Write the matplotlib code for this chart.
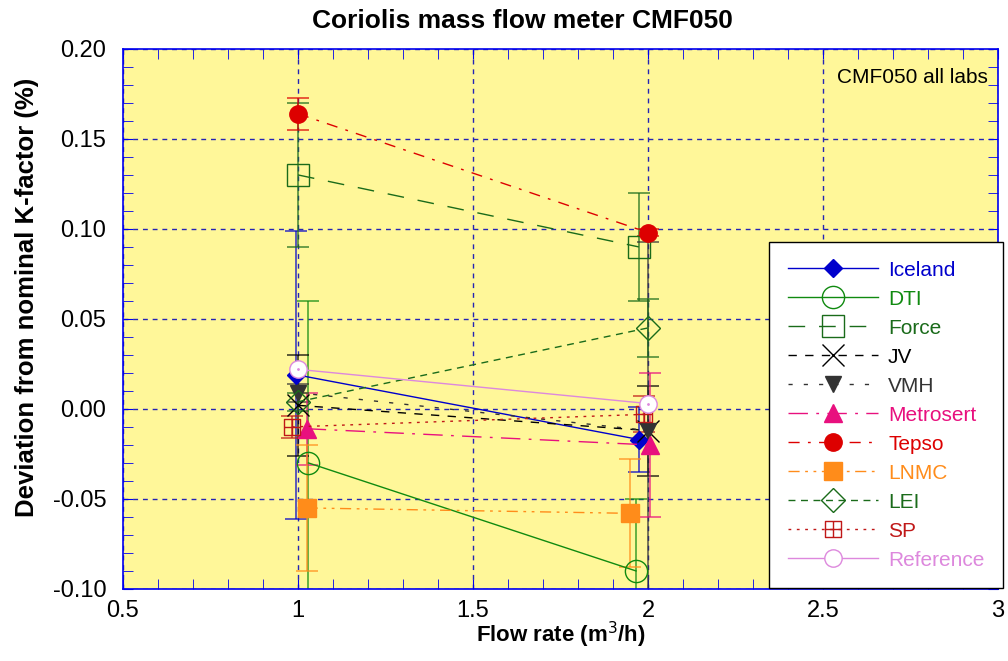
import numpy as np
import matplotlib
matplotlib.use("Agg")
import matplotlib.pyplot as plt
from matplotlib.path import Path
from matplotlib.ticker import MultipleLocator, FormatStrFormatter

plt.rcParams["font.family"] = ["Liberation Sans", "DejaVu Sans"]

labs = ["Iceland", "DTI", "Force", "JV", "VMH", "Metrosert", "Tepso", "LNMC", "LEI", "SP", "Reference"]

# flow rate (m3/h), deviation (%), uncertainty (%)
x_iceland = [0.995, 1.975]
y_iceland = [0.019, -0.017]
e_iceland = [0.08, 0.018]

x_dti = [1.03, 1.966]
y_dti = [-0.03, -0.09]
e_dti = [0.09, 0.04]

x_force = [1.0, 1.974]
y_force = [0.13, 0.09]
e_force = [0.04, 0.03]

x_jv = [1.0, 2.0]
y_jv = [0.002, -0.012]
e_jv = [0.028, 0.025]

x_vmh = [1.0, 2.0]
y_vmh = [0.009, -0.012]
e_vmh = [0.005, 0.105]

x_metrosert = [1.025, 2.005]
y_metrosert = [-0.011, -0.02]
e_metrosert = [0.02, 0.04]

x_tepso = [1.0, 2.0]
y_tepso = [0.164, 0.098]
e_tepso = [0.009, 0.002]

x_lnmc = [1.025, 1.95]
y_lnmc = [-0.055, -0.058]
e_lnmc = [0.035, 0.03]

x_lei = [1.0, 2.0]
y_lei = [0.004, 0.045]
e_lei = [0.005, 0.016]

x_sp = [0.983, 1.99]
y_sp = [-0.01, -0.003]
e_sp = [0.006, 0.01]

x_ref = [1.0, 2.0]
y_ref = [0.022, 0.003]

# square with a cross inside, for SP
boxcross = Path(
    [(-1, -1), (1, -1), (1, 1), (-1, 1), (-1, -1), (0, -1), (0, 1), (-1, 0), (1, 0)],
    [Path.MOVETO, Path.LINETO, Path.LINETO, Path.LINETO, Path.CLOSEPOLY,
     Path.MOVETO, Path.LINETO, Path.MOVETO, Path.LINETO])

series = [
    (x_iceland, y_iceland, e_iceland, "#0000CC", "-", "D", True, 9),
    (x_dti, y_dti, e_dti, "#108A10", "-", "o", False, 16),
    (x_force, y_force, e_force, "#1A6B1A", (0, (12, 10)), "s", False, 15.5),
    (x_jv, y_jv, e_jv, "#000000", (0, (6, 6)), "x", False, 16),
    (x_vmh, y_vmh, e_vmh, "#333333", (0, (3, 8)), "v", True, 12),
    (x_metrosert, y_metrosert, e_metrosert, "#E8107E", (0, (14, 6, 2, 6)), "^", True, 13),
    (x_tepso, y_tepso, e_tepso, "#DD0000", (0, (8, 6, 2, 6)), "o", True, 12.5),
    (x_lnmc, y_lnmc, e_lnmc, "#FF8C1A", (0, (8, 4, 2, 4, 2, 4)), "s", True, 13),
    (x_lei, y_lei, e_lei, "#1A6B1A", (0, (5, 4)), "D", False, 12),
    (x_sp, y_sp, e_sp, "#C01818", (0, (2, 4)), boxcross, False, 12),
]

fig = plt.figure(figsize=(10.08, 6.61), dpi=100)
ax = fig.add_axes([0.122, 0.109, 0.868, 0.817])
ax.set_facecolor("#FFF799")

handles = []
for (x, y, e, c, ls, m, filled, ms) in series:
    ax.errorbar(x, y, yerr=e, fmt="none", ecolor=c, alpha=0.75, elinewidth=1.2,
                capsize=8, capthick=1.2, zorder=2)
    h, = ax.plot(x, y, color=c, linestyle=ls, linewidth=1.0, marker=m, markersize=ms,
                 markerfacecolor=c if filled else "none", markeredgecolor=c,
                 markeredgewidth=1.0, zorder=3)
    handles.append(h)

h, = ax.plot(x_ref, y_ref, color="#DD88DD", linewidth=1.0, marker="o", markersize=12.5,
             markerfacecolor="white", markeredgecolor="#DD88DD", zorder=4)
ax.plot(x_ref, y_ref, linestyle="none", marker=".", markersize=2, color="#DD88DD", zorder=5)
handles.append(h)

ax.set_xlim(0.5, 3)
ax.set_ylim(-0.1, 0.2)
ax.xaxis.set_major_locator(MultipleLocator(0.5))
ax.xaxis.set_minor_locator(MultipleLocator(0.1))
ax.yaxis.set_major_locator(MultipleLocator(0.05))
ax.yaxis.set_minor_locator(MultipleLocator(0.01))
ax.yaxis.set_major_formatter(FormatStrFormatter("%.2f"))
ax.set_xticks([0.5, 1, 1.5, 2, 2.5, 3])
ax.set_xticklabels(["0.5", "1", "1.5", "2", "2.5", "3"])
ax.tick_params(which="both", direction="in", top=True, right=True, color="#0000EE",
               labelsize=17, length=7)
ax.tick_params(axis="x", pad=8)
ax.tick_params(axis="y", pad=12)
for s in ax.spines.values():
    s.set_color("#0000EE")
    s.set_linewidth(1.2)

ax.grid(True, which="major", color="#2424B4", linestyle=(0, (3.5, 3.5)), linewidth=1.0, zorder=1)
ax.set_axisbelow(True)

ax.set_title("Coriolis mass flow meter CMF050", fontsize=19, fontweight="bold",
             x=0.456, pad=15)
ax.set_xlabel("Flow rate (m$^3$/h)", fontsize=16, fontweight="bold")
ax.xaxis.set_label_coords(0.5, -0.098, transform=ax.transAxes)
ax.xaxis.label.set_va("baseline")
ax.set_ylabel("Deviation from nominal K-factor (%)", fontsize=18.5, fontweight="bold")
ax.yaxis.set_label_coords(-0.096, 0.54)

ax.text(0.988, 0.965, "CMF050 all labs", transform=ax.transAxes, ha="right", va="top",
        fontsize=15, zorder=6)

leg = ax.legend(handles, labs, loc="lower right", bbox_to_anchor=(1.006, 0.001),
                borderaxespad=0, fontsize=15, frameon=True, fancybox=False,
                edgecolor="black", framealpha=1, handlelength=4.3, borderpad=0.9,
                labelspacing=0.48, handletextpad=0.5)
leg.get_frame().set_linewidth(1.0)
leg.set_zorder(10)
for t, hh in zip(leg.get_texts(), handles):
    t.set_color(hh.get_color())

fig.savefig("out.png", dpi=100)
